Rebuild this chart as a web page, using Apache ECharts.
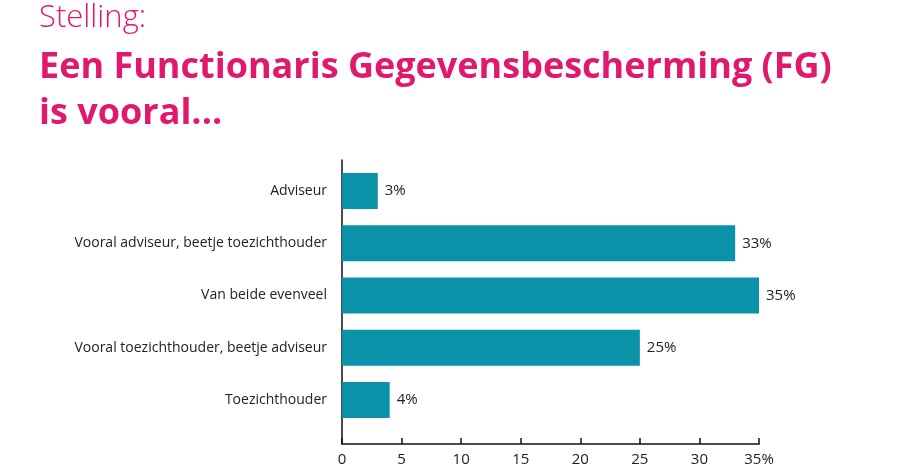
<!DOCTYPE html>
<html>
<head>
<meta charset="utf-8">
<script src="https://cdn.jsdelivr.net/npm/echarts@6/dist/echarts.min.js"></script>
<style>
	html, body { margin: 0; padding: 0; background: #fff; }
	#chart { width: 900px; height: 476px; }
</style>
</head>
<body>
<div id="chart"></div>
<script>
	// categories and percentages
	var categories = ["Adviseur", "Vooral adviseur, beetje toezichthouder", "Van beide evenveel", "Vooral toezichthouder, beetje adviseur", "Toezichthouder"];
	var values = [3, 33, 35, 25, 4];
	var xTicks = [0, 5, 10, 15, 20, 25, 30, 35];

	var pink = "#e0186e";
	var teal = "#0a92a8";
	var font = "Open Sans";

	var myChart = echarts.init(document.getElementById("chart"));

	var option = {
		backgroundColor: "#fff",
		animation: false,
		title: [{
			text: "Stelling:",
			left: 34,
			top: -2,
			textStyle: { color: pink, fontFamily: font, fontSize: 31, fontWeight: 300 }
		}, {
			text: "Een Functionaris Gegevensbescherming (FG)\nis vooral...",
			left: 34,
			top: 40,
			textStyle: { color: pink, fontFamily: font, fontSize: 36, fontWeight: "bold", lineHeight: 46 }
		}],
		grid: [
			{ left: 342, right: 141, top: 165, bottom: 50 },
			{ left: 342, right: 141, top: 160, bottom: 32 }
		],
		xAxis: [{
			gridIndex: 0,
			type: "value",
			min: 0,
			max: 35,
			show: false
		}, {
			gridIndex: 1,
			type: "value",
			min: 0,
			max: 35,
			interval: 5,
			axisLine: { show: true, lineStyle: { color: "#111", width: 1.5 } },
			axisTick: { show: true, inside: true, length: 6, lineStyle: { color: "#111", width: 1.5 } },
			splitLine: { show: false },
			axisLabel: {
				color: "#222",
				fontFamily: font,
				fontSize: 15,
				margin: 8,
				formatter: function(v){
					return v === xTicks[xTicks.length-1] ? v + "%" : String(v);
				}
			}
		}],
		yAxis: [{
			gridIndex: 0,
			type: "category",
			inverse: true,
			data: categories,
			axisLine: { show: false },
			axisTick: { show: false },
			axisLabel: { color: "#222", fontFamily: font, fontSize: 14, margin: 15 }
		}, {
			gridIndex: 1,
			type: "value",
			min: 0,
			max: 1,
			axisLine: { show: true, lineStyle: { color: "#111", width: 1.5 } },
			axisTick: { show: false },
			axisLabel: { show: false },
			splitLine: { show: false }
		}],
		series: [{
			type: "bar",
			xAxisIndex: 0,
			yAxisIndex: 0,
			data: values,
			barWidth: 36,
			itemStyle: { color: teal },
			label: {
				show: true,
				position: "right",
				distance: 7,
				color: "#222",
				fontFamily: font,
				fontSize: 15,
				formatter: "{c}%"
			}
		}]
	};

	myChart.setOption(option);
</script>
</body>
</html>
